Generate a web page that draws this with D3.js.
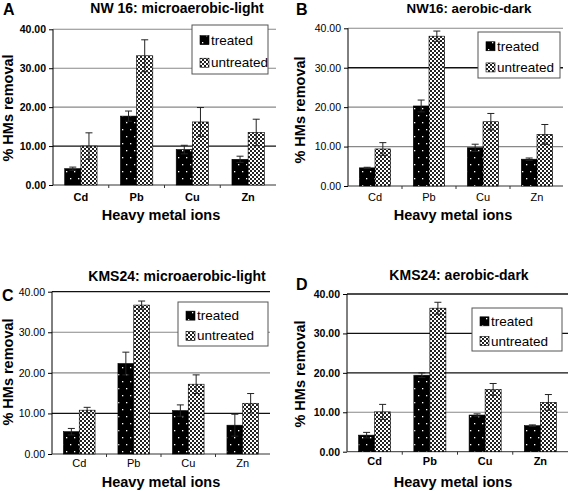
<!DOCTYPE html>
<html><head><meta charset="utf-8">
<script src="https://cdn.jsdelivr.net/npm/d3@7"></script>
<style>body{margin:0;background:#fff}svg{display:block;font-family:"Liberation Sans",Arial,sans-serif}</style>
</head><body>
<svg id="c" width="568" height="491"></svg>
<script>
// ---- data ----
const categories = ["Cd", "Pb", "Cu", "Zn"];
const seriesNames = ["treated", "untreated"];
const yTicks = [0, 10, 20, 30, 40];
const titles = ["NW 16: microaerobic-light", "NW16: aerobic-dark", "KMS24: microaerobic-light", "KMS24: aerobic-dark"];
const panelLetters = ["A", "B", "C", "D"];

const A_treated = [4.2, 17.7, 9.1, 6.6];
const A_treatedErr = [0.4, 1.3, 1.1, 0.8];
const A_untreated = [10.0, 33.2, 16.2, 13.5];
const A_untreatedErr = [3.4, 4.1, 3.7, 3.4];

const B_treated = [4.6, 20.3, 9.7, 6.8];
const B_treatedErr = [0.15, 1.5, 0.9, 0.3];
const B_untreated = [9.4, 38.0, 16.3, 13.1];
const B_untreatedErr = [1.6, 1.3, 2.1, 2.5];

const C_treated = [5.5, 22.3, 10.7, 7.1];
const C_treatedErr = [0.8, 2.8, 1.4, 2.7];
const C_untreated = [10.8, 36.7, 17.2, 12.5];
const C_untreatedErr = [0.7, 1.0, 2.3, 2.4];

const D_treated = [4.2, 19.4, 9.3, 6.6];
const D_treatedErr = [0.7, 0.6, 0.3, 0.2];
const D_untreated = [10.1, 36.4, 15.8, 12.5];
const D_untreatedErr = [1.9, 1.5, 1.5, 2.0];

const panelData = [
  [[A_treated, A_treatedErr], [A_untreated, A_untreatedErr]],
  [[B_treated, B_treatedErr], [B_untreated, B_untreatedErr]],
  [[C_treated, C_treatedErr], [C_untreated, C_untreatedErr]],
  [[D_treated, D_treatedErr], [D_untreated, D_untreatedErr]]
];

// ---- layout (positions / styles) ----
const layout = [
  {x0:53, x1:276, yTop:29.3, yBot:185, gridR:276, tX:177, tY:13, tS:14, lX:3, lY:15, leg:[192,25,76,49], yTX:13, yTY:108, xTX:161, xTY:220, catY:201, boldTicks:true, dark:[10]},
  {x0:348, x1:564, yTop:28.3, yBot:186, gridR:563, tX:469, tY:13, tS:13.3, lX:296, lY:15, leg:[478,32,82,46], yTX:305, yTY:110, xTX:453, xTY:220, catY:201, boldTicks:false, dark:[30]},
  {x0:52, x1:270, yTop:291.7, yBot:454, gridR:270, tX:177, tY:281, tS:14, lX:2, lY:301, leg:[178,302,90,44], yTX:13, yTY:372, xTX:161, xTY:487, catY:467, boldTicks:false, dark:[10,40]},
  {x0:347, x1:568, yTop:294, yBot:451.7, gridR:568, tX:459, tY:280, tS:14, lX:296, lY:290, leg:[472,308,90,43], yTX:305, yTY:374, xTX:453, xTY:487, catY:465, boldTicks:true, dark:[20,30,40]}
];

const svg = d3.select("#c");
const defs = svg.append("defs");
// treated pattern: black with sparse white dots
const pt = defs.append("pattern").attr("id","pTreated").attr("patternUnits","userSpaceOnUse").attr("width",8).attr("height",14);
pt.append("rect").attr("width",8).attr("height",14).attr("fill","#000");
pt.append("rect").attr("x",2).attr("y",3).attr("width",1.3).attr("height",1.3).attr("fill","#fff");
pt.append("rect").attr("x",6).attr("y",10).attr("width",1.3).attr("height",1.3).attr("fill","#fff");
// untreated pattern: fine checker
const pu = defs.append("pattern").attr("id","pUntreated").attr("patternUnits","userSpaceOnUse").attr("width",4).attr("height",4);
pu.append("rect").attr("width",4).attr("height",4).attr("fill","#fff");
pu.append("rect").attr("x",0).attr("y",0).attr("width",2).attr("height",2).attr("fill","#222");
pu.append("rect").attr("x",2).attr("y",2).attr("width",2).attr("height",2).attr("fill","#222");
const fills = ["url(#pTreated)", "url(#pUntreated)"];

panelData.forEach((series, pi) => {
  const L = layout[pi];
  const g = svg.append("g");
  const x = d3.scaleBand().domain(categories).range([L.x0, L.x1]).paddingInner(0.42).paddingOuter(0.21);
  const xs = d3.scaleBand().domain(seriesNames).range([0, x.bandwidth()]);
  const y = d3.scaleLinear().domain([0, 40]).range([L.yBot, L.yTop]);

  // gridlines
  g.selectAll("line.grid").data(yTicks.filter(t => t > 0)).enter().append("line")
    .attr("x1", L.x0).attr("x2", L.gridR).attr("y1", d => y(d)).attr("y2", d => y(d))
    .attr("stroke", d => L.dark.includes(d) ? "#111" : "#888").attr("stroke-width", d => L.dark.includes(d) ? 1.3 : 1.1);

  // y axis
  const yAxis = d3.axisLeft(y).tickValues(yTicks).tickFormat(d3.format(".2f")).tickSize(4).tickPadding(3);
  const ya = g.append("g").attr("transform", `translate(${L.x0},0)`).call(yAxis);
  ya.select(".domain").remove();
  ya.append("line").attr("x1",0).attr("x2",0).attr("y1",L.yTop).attr("y2",L.yBot).attr("stroke","#000");
  ya.selectAll(".tick line").attr("stroke","#000");
  ya.selectAll("text").attr("font-size", 10.5).attr("font-weight", L.boldTicks ? "bold" : "normal")
    .attr("fill","#000").attr("font-family",'"Liberation Sans",Arial,sans-serif');

  // x axis
  g.append("line").attr("x1", L.x0).attr("x2", L.gridR).attr("y1", L.yBot).attr("y2", L.yBot).attr("stroke", "#333");
  const step = x.step();
  g.selectAll("line.xt").data(categories.slice(1)).enter().append("line")
    .attr("x1", d => x(d) - step*0.21).attr("x2", d => x(d) - step*0.21)
    .attr("y1", L.yBot).attr("y2", L.yBot + 3).attr("stroke","#333");
  g.selectAll("text.cat").data(categories).enter().append("text")
    .attr("x", d => x(d) + x.bandwidth()/2).attr("y", L.catY).attr("text-anchor","middle")
    .attr("font-size", 11).attr("font-weight", L.boldTicks ? "bold" : "normal").text(d => d);

  // bars
  series.forEach(([vals, errs], si) => {
    const bg = g.append("g");
    bg.selectAll("rect").data(categories).enter().append("rect")
      .attr("x", (d) => x(d) + xs(seriesNames[si]))
      .attr("width", xs.bandwidth())
      .attr("y", (d, i) => y(vals[i]))
      .attr("height", (d, i) => y(0) - y(vals[i]))
      .attr("fill", fills[si]).attr("stroke", "#000").attr("stroke-width", 0.6);
    // error bars
    categories.forEach((c, i) => {
      const cx = x(c) + xs(seriesNames[si]) + xs.bandwidth()/2;
      const hi = y(vals[i] + errs[i]), lo = y(vals[i] - errs[i]);
      bg.append("line").attr("x1",cx).attr("x2",cx).attr("y1",hi).attr("y2",lo).attr("stroke","#222").attr("stroke-width",1);
      bg.append("line").attr("x1",cx-3.5).attr("x2",cx+3.5).attr("y1",hi).attr("y2",hi).attr("stroke","#222").attr("stroke-width",1);
      bg.append("line").attr("x1",cx-3.5).attr("x2",cx+3.5).attr("y1",lo).attr("y2",lo).attr("stroke","#222").attr("stroke-width",1);
    });
  });

  // legend
  const [lx, ly, lw, lh] = L.leg;
  const lg = g.append("g").attr("transform", `translate(${lx},${ly})`);
  lg.append("rect").attr("width", lw).attr("height", lh).attr("fill","#fff").attr("stroke","#555").attr("stroke-width",1);
  seriesNames.forEach((s, si) => {
    const cy = lh * (si === 0 ? 0.31 : 0.77);
    lg.append("rect").attr("x", 8).attr("y", cy - 4.5).attr("width", 9).attr("height", 9).attr("fill", fills[si]).attr("stroke","#000").attr("stroke-width",0.6);
    lg.append("text").attr("x", 19).attr("y", cy + 4.5).attr("font-size", 13.5).text(s);
  });

  // titles
  g.append("text").attr("x", L.tX).attr("y", L.tY).attr("text-anchor","middle").attr("font-size", L.tS).attr("font-weight","bold").text(titles[pi]);
  g.append("text").attr("x", L.lX).attr("y", L.lY).attr("font-size", 16).attr("font-weight","bold").text(panelLetters[pi]);
  g.append("text").attr("transform", `translate(${L.yTX},${L.yTY}) rotate(-90)`).attr("text-anchor","middle")
    .attr("font-size", 14.5).attr("font-weight","bold").text("% HMs removal");
  g.append("text").attr("x", L.xTX).attr("y", L.xTY).attr("text-anchor","middle").attr("font-size", 14.5).attr("font-weight","bold").text("Heavy metal ions");
});
</script>
</body></html>
